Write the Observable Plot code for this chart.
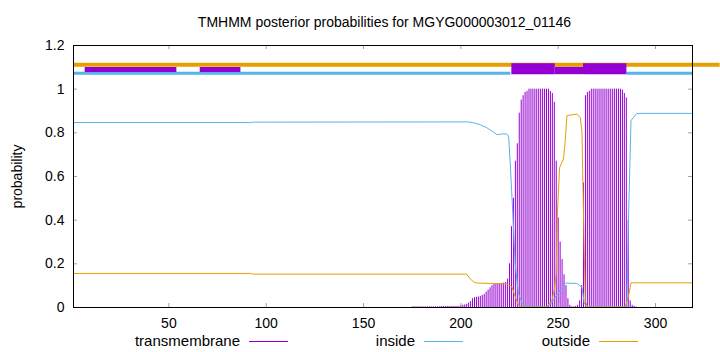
<!DOCTYPE html>
<html><head><meta charset="utf-8">
<script src="https://cdn.jsdelivr.net/npm/d3@7"></script>
<script src="https://cdn.jsdelivr.net/npm/@observablehq/plot@0.6"></script>
<style>
body{margin:0;background:#fff;font-family:"Liberation Sans",Arial,sans-serif;color:#000;}
#wrap{position:relative;width:720px;height:352px;overflow:hidden;background:#fff;}
#title{height:36px;box-sizing:border-box;padding-top:14px;padding-left:49px;line-height:16px;font-size:14px;text-align:center;white-space:nowrap;}
#legend{position:absolute;left:0;top:333px;width:720px;height:19px;font-size:15px;line-height:16px;}
.lt{position:absolute;top:0;text-align:right;white-space:nowrap;}
.ll{position:absolute;top:8px;height:0;border-top-width:1px;border-top-style:solid;}
svg{display:block;}
</style>
</head><body>
<div id="wrap">
<div id="title">TMHMM posterior probabilities for MGYG000003012_01146</div>
<div id="chart"></div>
<div id="legend"></div>
</div>
<script>
// ---- data ----
const xTicks = [50, 100, 150, 200, 250, 300];
const yTicks = [0, 0.2, 0.4, 0.6, 0.8, 1, 1.2];
const seriesNames = ["transmembrane", "inside", "outside"];
const yLabel = "probability";

// transmembrane posterior (impulses), residues 175..290
const tmFirstResidue = 175;
const tmValues = [
  0.003,0.003,0.003,0.003,0.003,0.003,0.003,0.003,0.003,0.003,0.003,0.003,0.003,0.003,0.003, // 175-189
  0.005,0.005,0.005,0.005,0.005,0.005,0.005,0.005,0.005,0.005, // 190-199
  0.008,0.01,0.012,0.015,0.02, // 200-204
  0.027,0.04,0.045,0.047,0.048,0.05,0.055,0.06,0.07,0.08, // 205-214
  0.09,0.1,0.105,0.108,0.11,0.11,0.11,0.112,0.115,0.13, // 215-224
  0.2,0.37,0.5,0.67,0.75,0.89,0.95,0.97,0.985,0.99, // 225-234
  1,1,1,1,1,1,1,1,1,1,1, // 235-245
  0.99,0.98,0.94,0.67,0.41,0.3,0.22,0.15,0.1,0.04, // 246-255
  0.01,0.003,0.003,0.005,0.01,0.03,0.1,0.57,0.97,0.985, // 256-265
  0.99,1,1,1,1,1,1,1,1,1,1,1,1,1,1,1,1, // 266-282
  0.995,0.98,0.96,0.4,0.03,0.01,0.005,0.002 // 283-290
];

// inside posterior: [residue, probability]
const insideCurve = [
  [1,0.847],[92,0.847],[93,0.849],[204,0.85],[207,0.845],[210,0.837],[213,0.825],
  [216.8,0.803],[218.5,0.792],[220,0.793],[222,0.796],[223.5,0.794],[224.5,0.787],
  [225.3,0.67],[226.7,0.43],[227.9,0.2],[229.6,0.064],[231.4,0.02],[233,0.005],
  [244,0.003],[246,0.015],[248,0.04],[251,0.078],[253.6,0.112],[259.6,0.11],
  [262.2,0.093],[263.4,0.02],[264.5,0.003],[285.3,0.003],[286.1,0.4],[287.4,0.856],
  [290.4,0.889],[319,0.889]
];

// outside posterior: [residue, probability]
const outsideCurve = [
  [1,0.156],[92,0.156],[93,0.153],[203,0.153],[204.8,0.131],[206.5,0.118],[208.2,0.112],
  [223.6,0.108],[226.2,0.096],[227.9,0.05],[229.6,0.01],[231,0.002],[244,0.002],
  [246.7,0.03],[248,0.08],[249,0.154],[249.6,0.43],[250.7,0.64],[252.7,0.68],
  [253.5,0.75],[254.5,0.879],[259.6,0.886],[261.3,0.87],[262.2,0.81],[263,0.43],
  [263.9,0.03],[265,0.002],[284.4,0.002],[286.1,0.05],[287.4,0.113],[319,0.113]
];

// predicted topology segments (residue ranges)
const outsideSegments = [[1, 333.2]];
const insideSegments = [[1, 225.7], [285.3, 319]];
const tmSegmentsThin = [[7, 54.1], [66.1, 87]];
const tmSegmentsThick = [[226.2, 248.5], [263, 285.3]];
const tmSegmentsJoin = [[248.5, 263]];

// ---- styles ----
const purple = "#9400d3", blue = "#56b4e9", orange = "#e69f00", tickGray = "#a0a0a0";
const colors = [purple, blue, orange];

const tmData = tmValues.map((v, i) => ({r: tmFirstResidue + i, v}));

const chart = Plot.plot({
  width: 720, height: 297,
  marginTop: 9, marginBottom: 26, marginLeft: 73, marginRight: 28,
  x: {domain: [1, 319]},
  y: {domain: [0, 1.2]},
  style: {fontFamily: "'Liberation Sans', Arial, sans-serif", fontSize: "14px", color: "black", background: "white", overflow: "visible"},
  marks: [
    Plot.ruleX(tmData, {x: "r", y1: 0, y2: "v", stroke: purple, strokeWidth: 1}),
    Plot.line(insideCurve, {x: d => d[0], y: d => d[1], stroke: blue, strokeWidth: 1}),
    Plot.line(outsideCurve, {x: d => d[0], y: d => d[1], stroke: orange, strokeWidth: 1}),
    Plot.ruleY(outsideSegments, {y: () => 1.112, x1: d => d[0], x2: d => d[1], stroke: orange, strokeWidth: 4}),
    Plot.ruleY(insideSegments, {y: () => 1.0724, x1: d => d[0], x2: d => d[1], stroke: blue, strokeWidth: 3}),
    Plot.ruleY(tmSegmentsThin, {y: () => 1.0905, x1: d => d[0], x2: d => d[1], stroke: purple, strokeWidth: 5}),
    Plot.ruleY(tmSegmentsThick, {y: () => 1.0937, x1: d => d[0], x2: d => d[1], stroke: purple, strokeWidth: 11}),
    Plot.ruleY(tmSegmentsJoin, {y: () => 1.0853, x1: d => d[0], x2: d => d[1], stroke: purple, strokeWidth: 7.3}),
    // inward ticks (gnuplot style, mirrored)
    Plot.ruleX(xTicks, {x: d => d, y1: 0, y2: 0.018, stroke: tickGray}),
    Plot.ruleX(xTicks, {x: d => d, y1: 1.2, y2: 1.182, stroke: tickGray}),
    Plot.ruleY(yTicks, {y: d => d, x1: 1, x2: 3, stroke: tickGray}),
    Plot.ruleY(yTicks, {y: d => d, x1: 319, x2: 317, stroke: tickGray}),
    Plot.frame({stroke: "black"}),
    Plot.axisX(xTicks, {tickSize: 0, tickPadding: 11, tickFormat: d => String(d), label: null}),
    Plot.axisY(yTicks, {tickSize: 0, tickPadding: 9, tickFormat: d => String(d), label: null}),
    Plot.text([yLabel], {text: d => d, frameAnchor: "left", dx: -56, rotate: -90, textAnchor: "middle", fontSize: 14})
  ]
});
document.getElementById("chart").appendChild(chart);

// legend
const legend = document.getElementById("legend");
const textEnds = [240, 415, 590];
seriesNames.forEach((name, i) => {
  const t = document.createElement("div");
  t.className = "lt";
  t.style.right = (720 - textEnds[i]) + "px";
  t.textContent = name;
  legend.appendChild(t);
  const l = document.createElement("div");
  l.className = "ll";
  l.style.left = (textEnds[i] + 9) + "px";
  l.style.width = "39px";
  l.style.borderTopColor = colors[i];
  legend.appendChild(l);
});
</script>
</body></html>
